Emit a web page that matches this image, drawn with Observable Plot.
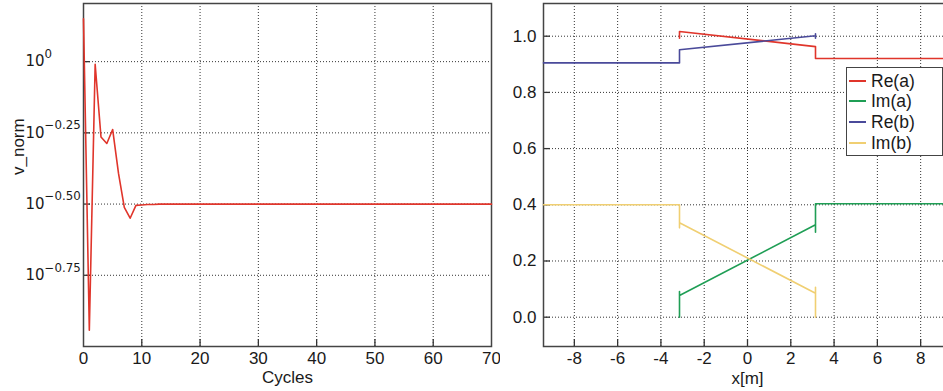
<!DOCTYPE html>
<html>
<head>
<meta charset="utf-8">
<script src="https://cdn.jsdelivr.net/npm/d3@7"></script>
<script src="https://cdn.jsdelivr.net/npm/@observablehq/plot@0.6"></script>
<style>
  html, body { margin: 0; padding: 0; background: white; }
  #page { position: relative; width: 943px; height: 391px; overflow: hidden; background: white; font-family: "Liberation Sans", Arial, sans-serif; }
  #left, #right { position: absolute; top: 0; }
  #left { left: 0; width: 500px; }
  #right { left: 500px; width: 460px; }
  #page svg { max-width: none !important; }
  #legend { position: absolute; left: 846px; top: 67px; width: 97px; height: 89px; box-sizing: border-box; border: 1.5px solid #444; background: white; }
  .entry { position: absolute; left: 0; height: 20px; font-size: 17.5px; color: #1a1a1a; }
  .entry .sw { position: absolute; left: 2px; top: 9px; width: 17px; height: 0; border-top: 2px solid; }
  .entry .lab { position: absolute; left: 24px; top: 0; line-height: 20px; white-space: nowrap; }
</style>
</head>
<body>
<div id="page">
  <div id="left"></div>
  <div id="right"></div>
  <div id="legend"></div>
</div>
<script>
// ---------- Left panel data ----------
const cycles = [0, 1, 2, 3, 4, 5, 6, 7, 8, 9, 10, 11, 12, 13, 14, 70];
const vNorm  = [1.414, 0.114, 0.978, 0.544, 0.516, 0.578, 0.406, 0.308, 0.282, 0.313, 0.314, 0.315, 0.315, 0.316, 0.316, 0.316];
const cycleTicks = [0, 10, 20, 30, 40, 50, 60, 70];
const vExpTicks = [0, -0.25, -0.5, -0.75];
const vExpLabels = ["0", "\u22120.25", "\u22120.50", "\u22120.75"];

// ---------- Right panel data ----------
const seriesNames  = ["Re(a)", "Im(a)", "Re(b)", "Im(b)"];
const seriesColors = ["#e0352b", "#1f9e55", "#4a4a9a", "#f0cf72"];
const reA_x = [-3.1416, -3.1416, 3.1416, 3.1416, 9.4248];
const reA_y = [0.993, 1.0167, 0.963, 0.9205, 0.9205];
const imA_x = [-3.1416, -3.1416, -3.1416, 3.1416, 3.1416, 3.1416, 9.4248];
const imA_y = [0.0, 0.0915, 0.077, 0.329, 0.3025, 0.4035, 0.4035];
const reB_x = [-9.4248, -3.1416, -3.1416, 3.1416, 3.1416, 3.1416];
const reB_y = [0.905, 0.905, 0.9516, 1.0014, 0.993, 1.0085];
const imB_x = [-9.4248, -3.1416, -3.1416, -3.1416, 3.1416, 3.1416, 3.1416];
const imB_y = [0.400, 0.400, 0.318, 0.336, 0.0854, 0.1068, 0.0];
const xTicksR = [-8, -6, -4, -2, 0, 2, 4, 6, 8];
const yTicksR = [0.0, 0.2, 0.4, 0.6, 0.8, 1.0];

const gridStyle = {stroke: "#000", strokeWidth: 1, strokeDasharray: "1,2", strokeOpacity: 0.8};
const tickStyle = {stroke: "#333", strokeWidth: 1.3};
const frameH = 391 - 3 - 45;
const frameW = 408;
const baseStyle = {fontFamily: "'Liberation Sans', Arial, sans-serif", fontSize: "17px", background: "white", color: "#1a1a1a", overflow: "visible"};

// ---------- Left plot ----------
const leftData = cycles.map((c, i) => ({c, v: vNorm[i]}));
const vTickVals = vExpTicks.map(e => Math.pow(10, e));
const left = Plot.plot({
  width: 500, height: 391,
  marginLeft: 83, marginRight: 9, marginTop: 3, marginBottom: 45,
  x: {domain: [0, 70]},
  y: {type: "log", domain: [0.1, 1.6]},
  style: baseStyle,
  marks: [
    Plot.ruleX(cycleTicks.slice(1, -1), gridStyle),
    Plot.ruleY(vTickVals, gridStyle),
    Plot.ruleX(cycleTicks.slice(1, -1), {...tickStyle, insetTop: frameH - 7}),
    Plot.ruleY(vTickVals, {...tickStyle, insetRight: frameW - 7}),
    Plot.frame({stroke: "#444", strokeWidth: 1.5}),
    Plot.line(leftData, {x: "c", y: "v", stroke: seriesColors[0], strokeWidth: 1.6}),
    Plot.axisX({ticks: cycleTicks, tickSize: 0, tickPadding: 5, tickFormat: d => String(d), label: null}),
    Plot.axisY({ticks: vTickVals, tickSize: 0, tickPadding: 58, textAnchor: "start", tickFormat: () => "10", label: null, fontFamily: "'DejaVu Sans'", fontSize: 15}),
    Plot.text(["Cycles"], {frameAnchor: "bottom", dy: 31, lineAnchor: "middle", text: d => d}),
    Plot.text(["v_norm"], {frameAnchor: "left", dx: -65, rotate: -90, lineAnchor: "middle", text: d => d})
  ]
});
document.getElementById("left").appendChild(left);

// superscripts on the log tick labels (match each label to its tick by vertical position)
const yScale = left.scale("y");
d3.select(left).selectAll('g[aria-label="y-axis tick label"] text').each(function() {
  const t = d3.select(this);
  const tr = this.getAttribute("transform") || "";
  const m = tr.match(/translate\(\s*([-\d.e]+)[ ,]+([-\d.e]+)/);
  let py = m ? +m[2] : +this.getAttribute("y");
  let idx = 0, best = Infinity;
  vTickVals.forEach((v, j) => {
    const dd = Math.abs(yScale.apply(v) - py);
    if (dd < best) { best = dd; idx = j; }
  });
  t.text(null);
  t.append("tspan").text("10");
  t.append("tspan").attr("dy", "-8.4").attr("font-size", "11.8px").text(vExpLabels[idx]);
});

// ---------- Right plot ----------
const mk = (xs, ys) => xs.map((x, i) => ({x, y: ys[i]}));
const seriesData = [mk(reA_x, reA_y), mk(imA_x, imA_y), mk(reB_x, reB_y), mk(imB_x, imB_y)];
const right = Plot.plot({
  width: 460, height: 391,
  marginLeft: 43, marginRight: 9, marginTop: 3, marginBottom: 45,
  x: {domain: [-9.4248, 9.4248]},
  y: {domain: [-0.1043, 1.1164]},
  style: baseStyle,
  marks: [
    Plot.ruleX(xTicksR, gridStyle),
    Plot.ruleY(yTicksR, gridStyle),
    Plot.ruleX(xTicksR, {...tickStyle, insetTop: frameH - 7}),
    Plot.ruleY(yTicksR, {...tickStyle, insetRight: frameW - 7}),
    Plot.frame({stroke: "#444", strokeWidth: 1.5}),
    ...seriesData.map((data, i) => Plot.line(data, {x: "x", y: "y", stroke: seriesColors[i], strokeWidth: 1.6})),
    Plot.axisX({ticks: xTicksR, tickSize: 0, tickPadding: 5, tickFormat: d => String(d), label: null}),
    Plot.axisY({ticks: yTicksR, tickSize: 0, tickPadding: 7, tickFormat: d => d.toFixed(1), label: null}),
    Plot.text(["x[m]"], {frameAnchor: "bottom", dy: 32, lineAnchor: "middle", text: d => d})
  ]
});
document.getElementById("right").appendChild(right);

// ---------- Legend ----------
const legend = document.getElementById("legend");
seriesNames.forEach((name, i) => {
  const e = document.createElement("div");
  e.className = "entry";
  e.style.top = (2.5 + i * 20.67) + "px";
  const sw = document.createElement("div");
  sw.className = "sw";
  sw.style.borderTopColor = seriesColors[i];
  const lab = document.createElement("div");
  lab.className = "lab";
  lab.textContent = name;
  e.appendChild(sw); e.appendChild(lab);
  legend.appendChild(e);
});
</script>
</body>
</html>
